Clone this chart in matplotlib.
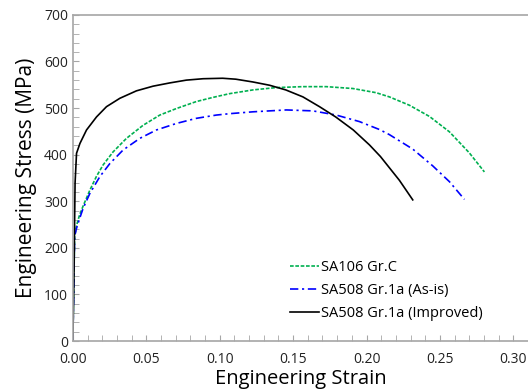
import numpy as np
import matplotlib.pyplot as plt
from matplotlib.ticker import MultipleLocator

plt.rcParams['font.family'] = ['Open Sans', 'DejaVu Sans']

# SA106 Gr.C
strain_c = [0, 0.0012, 0.0025, 0.0045, 0.007, 0.0116, 0.016, 0.0206, 0.0274, 0.0365,
            0.0478, 0.0592, 0.0705, 0.0841, 0.0955, 0.1068, 0.1227, 0.1385, 0.1567, 0.1726,
            0.1907, 0.2066, 0.2156, 0.2293, 0.2429, 0.2565, 0.270, 0.2803]
stress_c = [0, 225, 248, 270, 290, 324, 353, 378, 406, 435,
            463, 485, 499, 514, 523, 531, 539, 544, 546, 546,
            542, 533, 524, 506, 482, 449, 404, 363]

# SA508 Gr.1a (As-is)
strain_a = [0, 0.0012, 0.0025, 0.0045, 0.007, 0.0116, 0.0184, 0.0252, 0.0342, 0.0456,
            0.0569, 0.0705, 0.0841, 0.0977, 0.1068, 0.1227, 0.1454, 0.1635, 0.1794, 0.1952,
            0.2088, 0.2156, 0.2315, 0.2451, 0.2565, 0.2667]
stress_a = [0, 225, 242, 262, 285, 317, 353, 381, 410, 435,
            453, 467, 478, 485, 488, 492, 496, 494, 485, 471,
            454, 443, 412, 376, 342, 304]

# SA508 Gr.1a (Improved)
strain_i = [0, 0.0008, 0.0012, 0.0015, 0.0025, 0.0048, 0.0093, 0.0161, 0.0229, 0.032,
            0.0433, 0.0546, 0.066, 0.0773, 0.0887, 0.102, 0.111, 0.1227, 0.134, 0.145,
            0.1567, 0.168, 0.179, 0.191, 0.202, 0.2095, 0.2224, 0.2315]
stress_i = [0, 150, 260, 339, 403, 424, 453, 481, 503, 521,
            537, 547, 554, 560, 563, 564, 562, 556, 549, 539,
            524, 503, 481, 453, 421, 396, 345, 303]

fig = plt.figure(figsize=(5.28, 3.92), dpi=100)
ax = fig.add_axes([0.138, 0.130, 0.862, 0.832])

ax.plot(strain_c, stress_c, color='#00b050', lw=1.2, dashes=(2.2, 1.0), label='SA106 Gr.C')
ax.plot(strain_a, stress_a, color='#0000ff', lw=1.2, dashes=(5, 2.2, 1.3, 2.2),
        label='SA508 Gr.1a (As-is)')
ax.plot(strain_i, stress_i, color='black', lw=1.2, label='SA508 Gr.1a (Improved)')

ax.set_xlim(0, 0.31)
ax.set_ylim(0, 700)
ax.xaxis.set_major_locator(MultipleLocator(0.05))
ax.xaxis.set_minor_locator(MultipleLocator(0.01))
ax.yaxis.set_major_locator(MultipleLocator(100))
ax.yaxis.set_minor_locator(MultipleLocator(20))
ax.xaxis.set_major_formatter(plt.FuncFormatter(lambda v, p: f'{v:.2f}'))

for s in ['top', 'bottom', 'left']:
    ax.spines[s].set_color('#a6a6a6')
    ax.spines[s].set_linewidth(1.2)
ax.spines['right'].set_visible(False)
ax.tick_params(which='both', direction='in', color='#a6a6a6', labelsize=10,
               labelcolor='#222222', top=False, right=False)
ax.tick_params(which='major', length=4)
ax.tick_params(which='minor', length=4)
ax.tick_params(axis='x', pad=8)

ax.set_xlabel('Engineering Strain', fontsize=14.5, labelpad=1)
ax.set_ylabel('Engineering Stress (MPa)', fontsize=15, labelpad=5)

leg = ax.legend(loc='lower left', bbox_to_anchor=(0.448, 0.022), frameon=False,
                fontsize=10.5, handlelength=2.0, handletextpad=0.1, labelspacing=0.55)

fig.savefig('out.png', dpi=100)
